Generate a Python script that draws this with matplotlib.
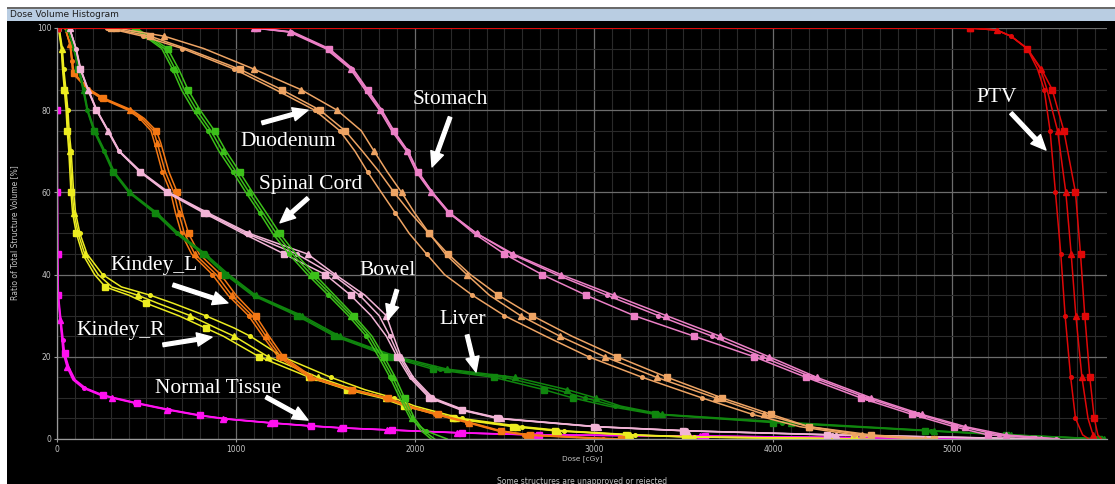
import matplotlib.pyplot as plt
from matplotlib.patches import Rectangle
from matplotlib.ticker import MultipleLocator

# DVH data: volume levels [%] and dose [cGy] for three plans (square / triangle / dot markers)
ptv_vol = [100, 100, 99.5, 98, 95, 90, 85, 75, 60, 45, 30, 15, 5, 1, 0]
ptv_sq = [0, 5100, 5250, 5330, 5420, 5500, 5560, 5625, 5690, 5718, 5742, 5770, 5795, 5815, 5835]
ptv_tri = [0, 5100, 5250, 5330, 5420, 5495, 5531, 5590, 5636, 5666, 5692, 5726, 5760, 5788, 5805]
ptv_dot = [0, 5100, 5250, 5330, 5420, 5478, 5515, 5548, 5578, 5608, 5632, 5663, 5690, 5730, 5765]

st_vol = [100, 100, 99, 95, 90, 85, 80, 75, 70, 65, 60, 55, 50, 45, 40, 35, 30, 25, 20, 15, 10, 6, 3, 1, 0]
st_sq = [0, 1120, 1320, 1520, 1655, 1735, 1815, 1882, 1962, 2018, 2098, 2192, 2330, 2500, 2710, 2955, 3225, 3560, 3895, 4185, 4490, 4775, 5010, 5200, 5550]
st_tri = [0, 1100, 1300, 1500, 1640, 1720, 1802, 1870, 1953, 2007, 2090, 2187, 2345, 2550, 2815, 3110, 3405, 3705, 3978, 4245, 4550, 4830, 5075, 5300, 5600]
st_dot = [0, 1110, 1310, 1510, 1648, 1728, 1810, 1878, 1960, 2015, 2097, 2195, 2345, 2540, 2790, 3070, 3360, 3660, 3940, 4220, 4525, 4810, 5050, 5260, 5580]

du_vol = [100, 100, 98, 95, 90, 85, 80, 75, 70, 65, 60, 55, 50, 45, 40, 35, 30, 25, 20, 15, 10, 6, 3, 1, 0]
du_sq = [0, 300, 520, 720, 1020, 1255, 1470, 1610, 1707, 1800, 1883, 1975, 2078, 2185, 2310, 2465, 2655, 2877, 3130, 3410, 3715, 3990, 4200, 4550, 4900]
du_tri = [0, 330, 600, 820, 1100, 1363, 1565, 1700, 1772, 1845, 1925, 1998, 2080, 2170, 2290, 2415, 2590, 2810, 3060, 3350, 3680, 3950, 4200, 4500, 4850]
du_dot = [0, 280, 480, 700, 990, 1220, 1440, 1580, 1665, 1735, 1812, 1890, 1968, 2065, 2165, 2320, 2500, 2730, 2970, 3270, 3603, 3885, 4150, 4450, 4800]

sc_vol = [100, 100, 98, 95, 90, 85, 80, 75, 70, 65, 60, 55, 50, 45, 40, 35, 30, 25, 20, 15, 10, 5, 2, 0]
sc_sq = [0, 440, 515, 618, 680, 732, 800, 880, 945, 1020, 1093, 1170, 1245, 1335, 1440, 1550, 1660, 1760, 1828, 1890, 1942, 1998, 2050, 2110]
sc_tri = [0, 430, 500, 600, 660, 712, 780, 860, 925, 1000, 1073, 1150, 1225, 1315, 1420, 1533, 1645, 1745, 1812, 1875, 1928, 1985, 2035, 2090]
sc_dot = [0, 420, 490, 585, 645, 695, 762, 842, 905, 982, 1055, 1132, 1205, 1295, 1400, 1515, 1628, 1728, 1797, 1860, 1915, 1973, 2060, 2180]

bw_vol = [100, 100, 95, 90, 85, 80, 75, 70, 65, 60, 55, 50, 45, 40, 35, 30, 25, 20, 15, 10, 7, 5, 3, 2, 1, 0]
bw_sq = [0, 70, 105, 130, 172, 220, 283, 345, 462, 612, 820, 1040, 1270, 1500, 1640, 1755, 1840, 1900, 1970, 2080, 2260, 2460, 3000, 3500, 4300, 5450]
bw_tri = [0, 70, 107, 133, 175, 223, 287, 350, 470, 625, 844, 1075, 1400, 1555, 1720, 1840, 1880, 1922, 1990, 2100, 2280, 2480, 3020, 3520, 4350, 5500]
bw_dot = [0, 70, 106, 131, 173, 221, 285, 348, 466, 618, 832, 1058, 1340, 1540, 1690, 1800, 1860, 1912, 1980, 2090, 2270, 2470, 3010, 3510, 4330, 5480]

lv_vol = [100, 100, 95, 90, 85, 80, 75, 70, 65, 60, 55, 50, 45, 40, 35, 30, 25, 20, 17, 15, 12, 10, 8, 6, 4, 2, 1, 0]
lv_sq = [0, 60, 92, 120, 145, 168, 205, 260, 312, 400, 545, 665, 815, 940, 1090, 1340, 1550, 1860, 2100, 2440, 2720, 2880, 3080, 3340, 4000, 4850, 5300, 5820]
lv_tri = [0, 60, 95, 125, 150, 172, 212, 268, 320, 410, 559, 680, 830, 960, 1110, 1370, 1580, 1900, 2180, 2560, 2850, 3010, 3150, 3380, 4100, 4900, 5330, 5850]
lv_dot = [0, 60, 94, 122, 148, 170, 208, 264, 316, 405, 552, 672, 822, 950, 1100, 1355, 1565, 1880, 2140, 2500, 2790, 2950, 3120, 3360, 4050, 4880, 5320, 5840]

kl_vol = [100, 100, 96, 92, 89, 87, 85, 83, 80, 78, 75, 72, 65, 60, 55, 50, 45, 40, 35, 30, 25, 20, 15, 12, 10, 8, 6, 4, 2, 1, 0]
kl_sq = [0, 45, 75, 87, 94, 140, 184, 258, 420, 487, 555, 580, 625, 672, 700, 735, 795, 915, 1000, 1110, 1185, 1265, 1430, 1650, 1850, 1970, 2130, 2310, 2480, 2640, 3150]
kl_tri = [0, 45, 73, 84, 90, 135, 178, 250, 410, 475, 540, 560, 605, 653, 680, 712, 770, 890, 975, 1090, 1167, 1250, 1420, 1640, 1840, 1960, 2120, 2300, 2470, 2626, 3100]
kl_dot = [0, 45, 72, 82, 88, 130, 172, 242, 398, 462, 525, 545, 588, 635, 662, 695, 752, 868, 955, 1070, 1150, 1235, 1410, 1630, 1830, 1950, 2110, 2290, 2460, 2610, 3050]

kr_vol = [100, 100, 95, 90, 85, 80, 75, 70, 60, 55, 50, 45, 40, 37, 35, 33, 30, 27, 25, 20, 15, 12, 10, 8, 5, 3, 2, 1, 0.5, 0]
kr_sq = [0, 8, 24, 31, 41, 51, 57, 66, 78, 87, 108, 143, 210, 270, 400, 500, 680, 830, 930, 1130, 1410, 1620, 1810, 1940, 2210, 2550, 2780, 3180, 3510, 4450]
kr_tri = [0, 10, 27, 34, 45, 56, 62, 72, 85, 95, 118, 155, 230, 307, 450, 565, 745, 890, 990, 1180, 1460, 1660, 1840, 1960, 2230, 2570, 2800, 3200, 3536, 4500]
kr_dot = [0, 12, 30, 38, 50, 61, 68, 79, 93, 104, 128, 168, 255, 360, 520, 650, 830, 990, 1080, 1260, 1530, 1720, 1880, 2000, 2260, 2600, 2830, 3230, 3560, 4550]

nt_vol = [100, 80, 60, 45, 35, 29, 24, 21, 17.5, 14.4, 12.4, 10.7, 10, 8.8, 7.1, 5.8, 4.9, 3.9, 3.2, 2.7, 2.2, 1.5, 1, 0.7, 0.3, 0]
nt_sq = [0, 1, 2, 4, 8, 22, 35, 42, 66, 102, 160, 258, 325, 445, 635, 800, 950, 1210, 1420, 1600, 1870, 2260, 2690, 3620, 4520, 5450]
nt_tri = [0, 1, 2, 3, 5, 17, 28, 34, 56, 89, 145, 240, 307, 425, 615, 780, 930, 1190, 1397, 1581, 1844, 2235, 2659, 3592, 4500, 5400]
nt_dot = [0, 1, 2, 3, 6, 19, 31, 38, 61, 95, 152, 249, 316, 435, 625, 790, 940, 1200, 1408, 1590, 1857, 2247, 2675, 3606, 4510, 5420]

labels = ['PTV', 'Stomach', 'Duodenum', 'Spinal Cord', 'Bowel', 'Liver', 'Kindey_L', 'Kindey_R', 'Normal Tissue']

W, H = 1115.0, 484.0
fig = plt.figure(figsize=(W / 100, H / 100), dpi=100)
fig.patch.set_facecolor('white')


def frame_rect(x0, y0, x1, y1, c):
    fig.patches.append(Rectangle((x0 / W, 1 - y1 / H), (x1 - x0) / W, (y1 - y0) / H,
                                 transform=fig.transFigure, facecolor=c, edgecolor='none', zorder=-10))


frame_rect(7, 21, W, H, 'black')
frame_rect(7, 8, W, 21, '#b9cde2')
frame_rect(7, 7, W, 8.5, '#6a6a6a')
fig.text(10 / W, 1 - 14.5 / H, 'Dose Volume Histogram', fontsize=6.5, color='#1e1e1e', va='center')

ax = fig.add_axes([57 / W, 1 - 439 / H, 1050 / W, 411 / H])
ax.set_facecolor('black')
ax.set_xlim(0, 5866)
ax.set_ylim(0, 100)
ax.xaxis.set_major_locator(MultipleLocator(1000))
ax.xaxis.set_minor_locator(MultipleLocator(100))
ax.yaxis.set_major_locator(MultipleLocator(20))
ax.yaxis.set_minor_locator(MultipleLocator(5))
ax.grid(which='major', color='#6c6c6c', lw=0.9)
ax.grid(which='minor', color='#2a2a2a', lw=0.8)
ax.set_axisbelow(True)
ax.tick_params(which='major', colors='#9a9a9a', labelcolor='#c4c4c4', labelsize=5.5,
               length=2.5, width=0.8, pad=1.5)
ax.tick_params(which='minor', length=0)
for s in ['top', 'right']:
    ax.spines[s].set_visible(False)
for s in ['left', 'bottom']:
    ax.spines[s].set_color('#9a9a9a')
    ax.spines[s].set_linewidth(0.9)

fig.text(582 / W, 1 - 458.5 / H, 'Dose [cGy]', fontsize=5.3, color='#c4c4c4', ha='center', va='center')
fig.text(15 / W, 1 - 233 / H, 'Ratio of Total Structure Volume [%]', fontsize=5.5, color='#c4c4c4',
         ha='center', va='center', rotation=90)
fig.text(582 / W, 1 - 481 / H, 'Some structures are unapproved or rejected', fontsize=5.5, color='#c4c4c4',
         ha='center', va='center')

structures = [
    (nt_vol, [nt_sq, nt_tri, nt_dot], '#ff10f0'),
    (kr_vol, [kr_sq, kr_tri, kr_dot], '#ecec20'),
    (kl_vol, [kl_sq, kl_tri, kl_dot], '#f47814'),
    (lv_vol, [lv_sq, lv_tri, lv_dot], '#10860e'),
    (bw_vol, [bw_sq, bw_tri, bw_dot], '#f2b4d6'),
    (sc_vol, [sc_sq, sc_tri, sc_dot], '#3cc01a'),
    (du_vol, [du_sq, du_tri, du_dot], '#eea464'),
    (st_vol, [st_sq, st_tri, st_dot], '#ec80c6'),
    (ptv_vol, [ptv_sq, ptv_tri, ptv_dot], '#e00808'),
]
mk = ['s', '^', 'o']
msz = [4.8, 4.2, 2.6]
start = [0.0, 0.016, 0.032]

for vol, plans, col in structures:
    for dose, m, ms, st in zip(plans, mk, msz, start):
        ax.plot(dose, vol, color=col, lw=1.1, marker=m, ms=ms, mfc=col, mec=col,
                markevery=(st, 0.048))

# annotation positions in data coords (dose, volume)
text_pos = [(5251, 83.0), (2196, 82.5), (1291, 72.5), (1419, 62.0), (1844, 41.1),
            (2268, 29.0), (542, 42.3), (358, 26.3), (899, 12.4)]
arrow_tail = [(5330, 79.3), (2196, 78.3), (1145, 76.9), (1402, 58.6), (1899, 36.3),
              (2291, 25.3), (648, 37.5), (592, 22.9), (1168, 10.2)]
arrow_head = [(5525, 70.3), (2095, 66.2), (1402, 80.0), (1246, 52.6), (1849, 29.0),
              (2341, 16.3), (955, 33.1), (866, 24.8), (1402, 4.6)]

for lab, tp, ta, hd in zip(labels, text_pos, arrow_tail, arrow_head):
    ax.text(tp[0], tp[1], lab, fontsize=15.5, family='Liberation Serif', color='white',
            ha='center', va='center', zorder=10)
    ax.annotate('', xy=hd, xytext=ta, zorder=10,
                arrowprops=dict(arrowstyle='simple,head_length=0.9,head_width=0.8,tail_width=0.22',
                                fc='white', ec='white', mutation_scale=12, shrinkA=0, shrinkB=0))

fig.savefig('out.png', dpi=100, facecolor=fig.get_facecolor())
